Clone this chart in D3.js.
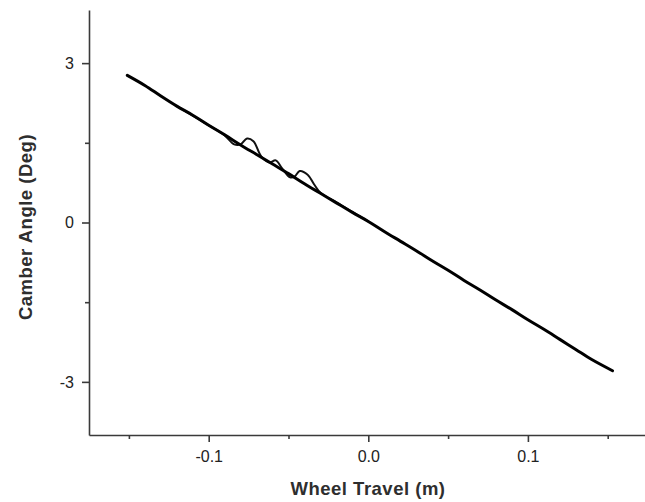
<!DOCTYPE html>
<html>
<head>
<meta charset="utf-8">
<script src="https://cdn.jsdelivr.net/npm/d3@7"></script>
<style>
  html, body { margin: 0; padding: 0; background: #fff; }
  svg { display: block; }
  .axis path, .axis line { stroke: #3a3a3a; stroke-width: 1.6; }
  .axis text { font-family: "Liberation Sans", Arial, sans-serif; font-size: 16px; fill: #222; }
  .title { font-family: "Liberation Sans", Arial, sans-serif; font-size: 18.5px; font-weight: bold;
    letter-spacing: 0.5px; fill: #2e2e2e; }
</style>
</head>
<body>
<div id="chart"></div>
<script>
// wheel travel (m) and camber angle (deg), main run
const travelMain = [-0.151, -0.14, -0.13, -0.12, -0.11, -0.10, -0.09, -0.08, -0.07, -0.06,
  -0.05, -0.04, -0.03, -0.02, -0.01, 0.0, 0.01, 0.02, 0.03, 0.04, 0.05, 0.06, 0.07,
  0.08, 0.09, 0.10, 0.11, 0.12, 0.13, 0.14, 0.153];
const camberMain = [2.77, 2.58, 2.38, 2.19, 2.02, 1.83, 1.65, 1.46, 1.28, 1.10,
  0.92, 0.73, 0.55, 0.37, 0.19, 0.02, -0.17, -0.35, -0.53, -0.72, -0.90, -1.09, -1.27,
  -1.46, -1.64, -1.83, -2.01, -2.20, -2.39, -2.58, -2.79];

// second run with small oscillations
const travelOsc = [-0.12, -0.10, -0.09, -0.084, -0.080, -0.076, -0.072, -0.067, -0.062,
  -0.058, -0.054, -0.049, -0.046, -0.043, -0.038, -0.034, -0.030, -0.02, -0.01, 0.0];
const camberOsc = [2.19, 1.83, 1.64, 1.47, 1.47, 1.58, 1.53, 1.24, 1.13,
  1.17, 1.02, 0.85, 0.87, 0.97, 0.90, 0.72, 0.56, 0.38, 0.20, 0.02];

const xTicks = [-0.1, 0.0, 0.1];
const xMinor = [-0.15, -0.05, 0.05, 0.15];
const yTicks = [-3, 0, 3];
const yMinor = [-1.5, 1.5];

const width = 645, height = 502;
const margin = { top: 10, left: 89, bottom: 67 };

const x = d3.scaleLinear().domain([-0.175, 0.175]).range([margin.left, 647.6]);
const y = d3.scaleLinear().domain([-4, 4]).range([height - margin.bottom, margin.top]);

const svg = d3.select('#chart').append('svg')
  .attr('width', width)
  .attr('height', height);

// minor ticks
svg.append('g')
  .attr('class', 'axis')
  .attr('transform', `translate(0,${y(-4)})`)
  .call(d3.axisBottom(x).tickValues(xMinor).tickSize(4).tickFormat(''))
  .select('.domain').remove();
svg.append('g')
  .attr('class', 'axis')
  .attr('transform', `translate(${x(-0.175)},0)`)
  .call(d3.axisLeft(y).tickValues(yMinor).tickSize(4).tickFormat(''))
  .select('.domain').remove();

// main axes
const xAxis = svg.append('g')
  .attr('class', 'axis')
  .attr('transform', `translate(0,${y(-4)})`)
  .call(d3.axisBottom(x).tickValues(xTicks).tickSize(7).tickSizeOuter(0).tickPadding(9)
    .tickFormat(d3.format('.1f')));
xAxis.selectAll('text').text(d => d3.format('.1f')(d).replace('−', '-'));

const yAxis = svg.append('g')
  .attr('class', 'axis')
  .attr('transform', `translate(${x(-0.175)},0)`)
  .call(d3.axisLeft(y).tickValues(yTicks).tickSize(7).tickSizeOuter(0).tickPadding(8)
    .tickFormat(d => String(d)));

// curves
const line = d3.line()
  .x(d => x(d[0]))
  .y(d => y(d[1]))
  .curve(d3.curveCatmullRom.alpha(0.5));

svg.append('path')
  .datum(d3.zip(travelOsc, camberOsc))
  .attr('d', line)
  .attr('fill', 'none')
  .attr('stroke', '#111')
  .attr('stroke-width', 2)
  .attr('stroke-linecap', 'round');

svg.append('path')
  .datum(d3.zip(travelMain, camberMain))
  .attr('d', line)
  .attr('fill', 'none')
  .attr('stroke', '#000')
  .attr('stroke-width', 3)
  .attr('stroke-linecap', 'round')
  .attr('stroke-linejoin', 'round');

// titles
svg.append('text')
  .attr('class', 'title')
  .attr('x', 368)
  .attr('y', 495)
  .attr('text-anchor', 'middle')
  .text('Wheel Travel (m)');

svg.append('text')
  .attr('class', 'title')
  .attr('transform', 'translate(32,227) rotate(-90)')
  .attr('text-anchor', 'middle')
  .text('Camber Angle (Deg)');
</script>
</body>
</html>
